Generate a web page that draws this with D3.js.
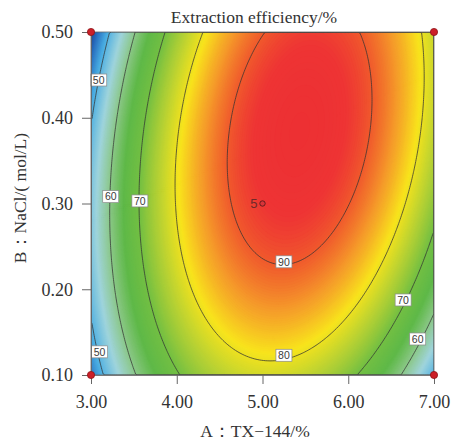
<!DOCTYPE html>
<html>
<head>
<meta charset="utf-8">
<script src="https://cdn.jsdelivr.net/npm/d3@7"></script>
<style>
  html, body { margin: 0; padding: 0; background: #fff; }
  svg { display: block; }
</style>
</head>
<body>
<svg id="chart" width="451" height="446"></svg>
<script>
// ---------------- data ----------------
const xTicks = [3.00, 4.00, 5.00, 6.00, 7.00];
const yTicks = [0.10, 0.20, 0.30, 0.40, 0.50];
// quadratic response-surface model in coded units a=(A-5)/2, b=(B-0.3)/0.2
// [intercept, a, b, ab, a^2, b^2]
const modelCoef = [92.8, 9.85, 5.85, 7.73, -30.3, -8.9];
const contourLevels = [50, 60, 70, 80, 90];
// contour label anchors
const labelA = [3.09, 3.23, 3.57, 5.25, 5.25, 6.64, 6.81, 3.10];
const labelB = [0.444, 0.308, 0.303, 0.232, 0.123, 0.1875, 0.142, 0.127];
const labelText = ["50", "60", "70", "90", "80", "70", "60", "50"];
// design points
const cornerA = [3, 3, 7, 7];
const cornerB = [0.10, 0.50, 0.10, 0.50];
const centerA = [5];
const centerB = [0.30];
const centerCount = ["5"];
// colour ramp (value -> colour)
const rampValues = [42, 45, 49, 55, 60, 65, 70, 76, 81, 86, 90, 93, 96];
const rampColors = ["#1d4796", "#2a70c0", "#49ade2", "#9fd4dc", "#8cc88a", "#5fb948",
                    "#72bf43", "#b9d233", "#f8e41c", "#f59a2a", "#f05a2c", "#ee3434", "#ec2f33"];

// ---------------- layout ----------------
const svg = d3.select("#chart");
const pL = 91, pR = 434, pT = 32, pB = 375;
const x = d3.scaleLinear().domain([3, 7]).range([pL, pR]);
const y = d3.scaleLinear().domain([0.1, 0.5]).range([pB, pT]);
const color = d3.scaleLinear().domain(rampValues).range(rampColors)
  .interpolate(d3.interpolateRgb).clamp(true);

function model(A, B) {
  const a = (A - 5) / 2, b = (B - 0.3) / 0.2;
  const c = modelCoef;
  return c[0] + c[1]*a + c[2]*b + c[3]*a*b + c[4]*a*a + c[5]*b*b;
}

// grid sampled at cell centres
const n = 160;
const values = new Float64Array(n * n);
for (let j = 0; j < n; j++) {
  const B = 0.5 - (j + 0.5) * 0.4 / n;
  for (let i = 0; i < n; i++) {
    const A = 3 + (i + 0.5) * 4 / n;
    values[j * n + i] = model(A, B);
  }
}
const proj = d3.geoTransform({
  point: function(gx, gy) {
    this.stream.point(x(3 + gx * 4 / n), y(0.5 - gy * 0.4 / n));
  }
});
const path = d3.geoPath(proj);

svg.append("defs").append("clipPath").attr("id", "plotclip")
  .append("rect").attr("x", pL).attr("y", pT)
  .attr("width", pR - pL).attr("height", pB - pT);

const plot = svg.append("g").attr("clip-path", "url(#plotclip)");

// filled bands
const vmin = d3.min(values), vmax = d3.max(values);
const step = 0.25;
const bandThresholds = d3.range(Math.floor(vmin) - 1, vmax, step);
const bands = d3.contours().size([n, n]).thresholds(bandThresholds)(values);
plot.append("g").selectAll("path").data(bands).join("path")
  .attr("d", path)
  .attr("fill", d => color(d.value + step / 2))
  .attr("stroke", d => color(d.value + step / 2))
  .attr("stroke-width", 0.3);

// contour lines
const lines = d3.contours().size([n, n]).thresholds(contourLevels)(values);
plot.append("g").selectAll("path").data(lines).join("path")
  .attr("d", path)
  .attr("fill", "none")
  .attr("stroke", "#333")
  .attr("stroke-width", 0.75);

// frame
svg.append("rect").attr("x", pL).attr("y", pT)
  .attr("width", pR - pL).attr("height", pB - pT)
  .attr("fill", "none").attr("stroke", "#666").attr("stroke-width", 0.8);

// contour labels
const lg = svg.append("g").attr("font-family", "Liberation Sans, Arial, sans-serif")
  .attr("font-size", 10.5);
labelText.forEach((t, k) => {
  const cx = x(labelA[k]), cy = y(labelB[k]);
  lg.append("rect").attr("x", cx - 8).attr("y", cy - 6)
    .attr("width", 16).attr("height", 12)
    .attr("fill", "#fff").attr("stroke", "#8a8a8a").attr("stroke-width", 0.7);
  lg.append("text").attr("x", cx).attr("y", cy + 3.8)
    .attr("text-anchor", "middle").attr("fill", "#3a3a3a").text(t);
});

// axes
const serif = "Liberation Serif, Times New Roman, serif";
const yAxis = svg.append("g").attr("transform", `translate(${pL},0)`)
  .call(d3.axisLeft(y).tickValues(yTicks).tickFormat(d3.format(".2f")).tickSize(9).tickPadding(9));
const xAxis = svg.append("g").attr("transform", `translate(0,${pB})`)
  .call(d3.axisBottom(x).tickValues(xTicks).tickFormat(d3.format(".2f")).tickSize(9).tickPadding(11));
[xAxis, yAxis].forEach(ax => {
  ax.select(".domain").attr("stroke", "#666").attr("stroke-width", 0.8);
  ax.selectAll(".tick line").attr("stroke", "#666").attr("stroke-width", 1);
  ax.selectAll(".tick text").attr("font-family", serif).attr("font-size", 18).attr("fill", "#333");
});

// design points
svg.append("g").selectAll("circle").data(cornerA).join("circle")
  .attr("cx", (d, k) => x(d)).attr("cy", (d, k) => y(cornerB[k]))
  .attr("r", 3.6).attr("fill", "#cc1f28").attr("stroke", "#8e1418").attr("stroke-width", 0.8);
svg.append("g").selectAll("circle").data(centerA).join("circle")
  .attr("cx", (d, k) => x(d)).attr("cy", (d, k) => y(centerB[k]))
  .attr("r", 2.7).attr("fill", "#d8343a").attr("stroke", "#5a1a1a").attr("stroke-width", 0.9);
svg.append("g").selectAll("text").data(centerA).join("text")
  .attr("x", (d, k) => x(d) - 5).attr("y", (d, k) => y(centerB[k]) + 4.5)
  .attr("text-anchor", "end")
  .attr("font-family", "Liberation Sans, Arial, sans-serif").attr("font-size", 13)
  .attr("fill", "#6e2a2a").text((d, k) => centerCount[k]);

// titles
svg.append("text").attr("x", 254).attr("y", 23).attr("text-anchor", "middle")
  .attr("font-family", serif).attr("font-size", 17.5).attr("fill", "#333")
  .text("Extraction efficiency/%");
svg.append("text").attr("x", 255).attr("y", 437).attr("text-anchor", "middle")
  .attr("font-family", serif).attr("font-size", 17.5).attr("fill", "#333")
  .text("A：TX−144/%");
svg.append("text").attr("transform", "translate(26,198) rotate(-90)")
  .attr("text-anchor", "middle")
  .attr("font-family", serif).attr("font-size", 17.5).attr("fill", "#333")
  .text("B：NaCl/( mol/L)");
</script>
</body>
</html>
